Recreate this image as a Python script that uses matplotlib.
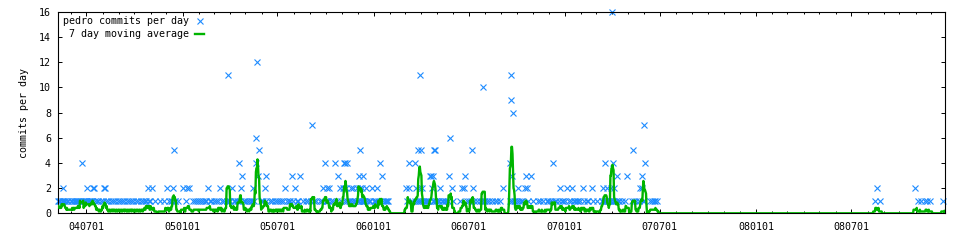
import numpy as np
import pandas as pd
import matplotlib
matplotlib.use("Agg")
import matplotlib.pyplot as plt
import matplotlib.dates as mdates

# ---- data: day offsets (from START) of days with a given number of commits ----
START = pd.Timestamp("2004-05-08")
N_DAYS = 1694

days_1 = [0, 2, 4, 7, 9, 12, 14, 17, 20, 24, 27, 30, 32, 35, 37, 39, 41, 43, 48, 50, 51, 53, 54,
          58, 60, 61, 63, 64, 65, 71, 74, 77, 82, 86, 92, 96, 101, 105, 109, 114, 118, 123, 127,
          131, 136, 140, 144, 149, 153, 158, 162, 166, 168, 174, 176, 185, 195, 202, 212, 216,
          218, 223, 224, 230, 244, 258, 262, 265, 269, 273,
          276, 280, 283, 290, 293, 297, 301, 305, 313, 317, 322, 323, 324, 327, 329, 336, 338,
          341, 344, 348, 355, 357, 361, 365, 369, 371, 375, 388, 390, 392, 397, 404, 408, 414,
          418, 422, 426, 430, 437, 441, 444, 449, 456, 458, 468, 474, 478, 484, 489, 492, 500,
          504, 511, 512, 513, 516, 522, 526, 532, 541, 548, 551,
          555, 557, 561, 566, 568, 572, 573, 574, 578, 580, 582, 584, 585, 586, 590, 593, 596,
          603, 605, 607, 612, 621, 625, 627, 629, 631, 667, 676, 682, 686, 689, 690, 694, 698,
          700, 702, 704, 706, 708, 716, 719, 721, 722, 726, 728, 733, 736, 739, 741, 745, 755,
          768, 781, 785, 789, 795, 800, 805, 809, 814, 816, 820, 824,
          828, 835, 839, 845, 863, 867, 870, 873, 876, 881, 884, 887, 898, 907, 916, 921, 927,
          933, 936, 940, 944, 949, 952, 956, 962, 965, 968, 975, 979, 985, 987, 991, 994, 997,
          1005, 1010, 1013, 1022, 1030, 1038, 1039, 1043, 1044, 1046, 1047, 1050, 1052, 1054,
          1057, 1059, 1061, 1065, 1069, 1071, 1077, 1082, 1096, 1101, 1103, 1109, 1118, 1119,
          1131, 1134, 1138, 1141, 1144,
          1560, 1570, 1643, 1649, 1656, 1660, 1666, 1690]
days_2 = [10, 56, 67, 69, 88, 90, 171, 180, 208, 220, 238, 247, 251,
          287, 309, 332, 350, 373, 395, 434, 453, 507, 514, 518, 539, 544, 546, 550,
          559, 564, 571, 576, 581, 588, 600, 609, 665, 670, 684, 692, 695, 715, 730, 753, 772,
          775, 793,
          849, 879, 891, 896, 959, 973, 982, 1002, 1019, 1041, 1048, 1056, 1062, 1112, 1115,
          1564, 1637]
days_3 = [351, 382, 398, 446, 462, 535, 575, 583, 618, 711, 713, 717, 747, 777,
          868, 893, 903, 1067, 1087, 1116]
days_4 = [45, 346, 378, 509, 529, 547, 549, 552, 615, 671, 681, 864, 946, 1045, 1060, 1121]
days_5 = [222, 384, 577, 688, 693, 718, 720, 790, 1099]
days_6 = [379, 749]
days_7 = [486, 1120]
days_8 = [869]
days_9 = [865]
days_10 = [812]
days_11 = [325, 691, 866]
days_12 = [381]
days_16 = [1058]

levels = [(1, days_1), (2, days_2), (3, days_3), (4, days_4), (5, days_5), (6, days_6),
          (7, days_7), (8, days_8), (9, days_9), (10, days_10), (11, days_11),
          (12, days_12), (16, days_16)]

counts = np.zeros(N_DAYS + 1)
for c, ds in levels:
    counts[ds] = c
dates = START + pd.to_timedelta(np.arange(N_DAYS + 1), unit="D")
ma = pd.Series(counts).rolling(7, center=True, min_periods=1).mean().values
nz = counts > 0

MONO = "DejaVu Sans Mono"
FS = 7.2

fig = plt.figure(figsize=(9.6, 2.4), dpi=100)
ax = fig.add_axes([58 / 960, (240 - 213.3) / 240, (945 - 58) / 960, (213.3 - 12) / 240])

ax.plot(dates[nz], counts[nz], linestyle="none", marker="x", markersize=4.8,
        markeredgewidth=0.8, color="#1e8cff", clip_on=False, zorder=2,
        label="pedro commits per day")
ax.plot(dates, ma, color="#00b400", linewidth=1.7, zorder=3,
        label=" 7 day moving average")

ax.set_xlim(START, START + pd.Timedelta(days=N_DAYS))
ax.set_ylim(0, 16)
ax.set_yticks(np.arange(0, 17, 2))
ax.xaxis.set_major_locator(mdates.MonthLocator(bymonth=[1, 7]))
ax.xaxis.set_minor_locator(mdates.MonthLocator())
ax.xaxis.set_major_formatter(mdates.DateFormatter("%y%m%d"))

ax.tick_params(which="both", direction="in", top=True, right=True, width=0.7,
               labelsize=FS, colors="black")
ax.tick_params(axis="x", which="major", length=3, pad=6.5)
ax.tick_params(axis="x", which="minor", length=1.5)
ax.tick_params(axis="y", which="major", length=3, pad=5)
for lab in ax.get_xticklabels() + ax.get_yticklabels():
    lab.set_fontfamily(MONO)
for s in ax.spines.values():
    s.set_linewidth(0.8)

ax.set_ylabel("commits per day", fontfamily=MONO, fontsize=FS)
ax.yaxis.label.set_va("center")
ax.yaxis.set_label_coords((24 - 58) / 887, 0.5)

ax.legend(loc="upper left", bbox_to_anchor=(0.006, 0.98), markerfirst=False,
          frameon=False, prop={"family": MONO, "size": FS}, handlelength=0.9,
          handletextpad=0.6, labelspacing=0.3, borderaxespad=0, borderpad=0)

fig.savefig("out.png", dpi=100)
